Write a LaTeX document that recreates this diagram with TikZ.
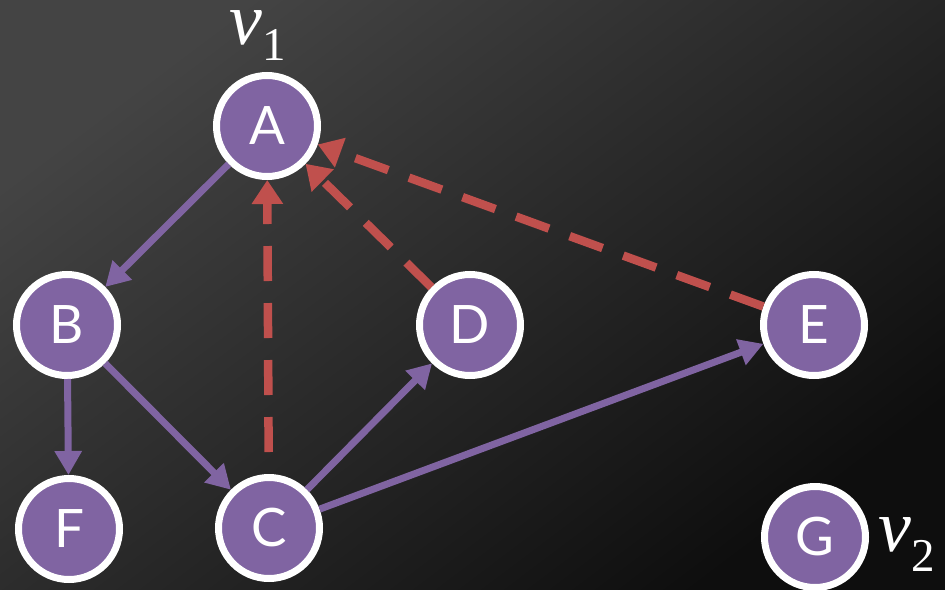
\documentclass[tikz,border=0pt]{standalone}
\usepackage{fontspec}
\setmainfont{Lato}
\newfontfamily\tnr{Liberation Serif}
\usetikzlibrary{arrows.meta}
\definecolor{vpurple}{HTML}{8064A2}
\definecolor{vred}{HTML}{C0504D}
\definecolor{bgtop}{HTML}{444444}
\definecolor{bgbot}{HTML}{0E0E0E}
\begin{document}
\begin{tikzpicture}[x=1pt,y=1pt,
  vnode/.style={circle, draw=white, line width=7pt, fill=vpurple, minimum size=101pt,
    inner sep=0pt, text=white, font=\fontsize{53}{60}\selectfont},
  tree/.style={draw=vpurple, line width=7pt, -{Triangle[length=24pt,width=26pt]}},
  back/.style={draw=vred, line width=8.5pt, dash pattern=on 35pt off 22pt,
    -{Triangle[length=24pt,width=30pt]}},
  vlab/.style={inner sep=0pt, anchor=base west, text=white}]
\shade[shading=axis, top color=bgtop, bottom color=bgbot, shading angle=37] (0,0) rectangle (945,-589);
\useasboundingbox (0,0) rectangle (945,-589);

\node[vnode] (A) at (267,-126) {A};
\node[vnode] (B) at (67,-325) {B};
\node[vnode] (D) at (470,-325) {D};
\node[vnode] (E) at (814,-325) {E};
\node[vnode] (F) at (69,-529) {F};
\node[vnode] (C) at (269,-528) {C};
\node[vnode] (G) at (815,-537) {G};

\draw[tree] (A) -- (B);
\draw[tree] (B) -- (F);
\draw[tree] (B) -- (C);
\draw[tree] (C) -- (D);
\draw[tree] (C) -- (E);

\draw[back, dash phase=35pt] (C) -- (A);
\draw[back] (D) -- (A);
\draw[back] (E) -- (A);

\node[vlab] (v1) at (229,-44) {\tnr\fontsize{74}{80}\selectfont\itshape v\raisebox{-17pt}{\upshape\fontsize{47}{50}\selectfont 1}};
\node[vlab] (v2) at (878,-551) {\tnr\fontsize{74}{80}\selectfont\itshape v\raisebox{-20pt}{\upshape\fontsize{47}{50}\selectfont 2}};
\end{tikzpicture}
\end{document}
